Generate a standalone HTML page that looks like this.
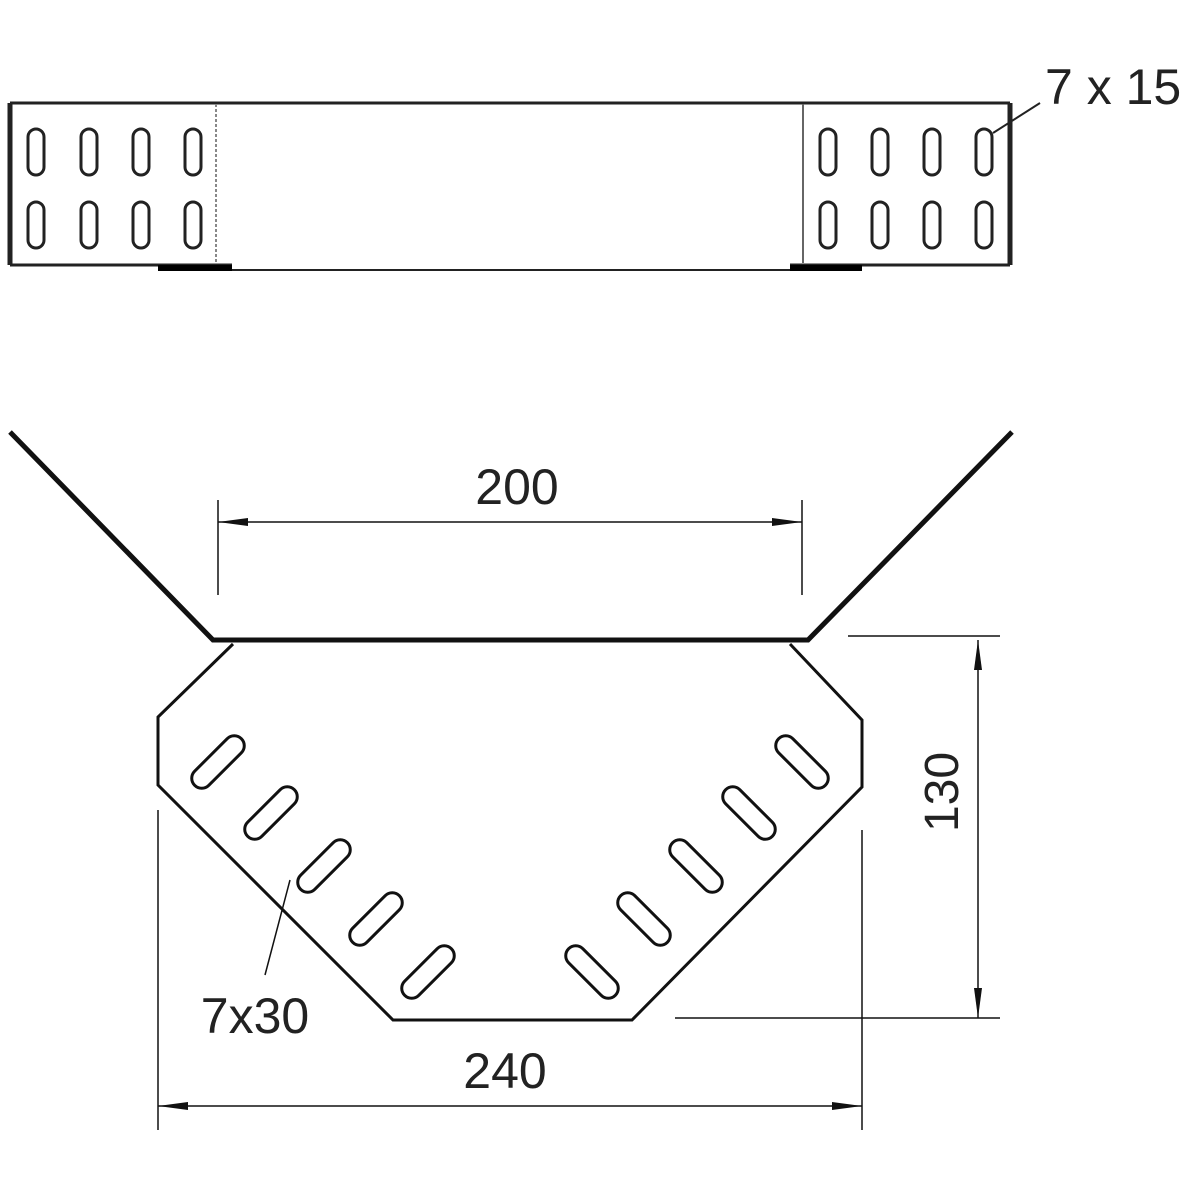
<!DOCTYPE html><html><head><style>body{margin:0;background:#fff}svg{display:block}text{font-family:"Liberation Sans",sans-serif;fill:#222}</style></head><body>
<svg width="1200" height="1200" viewBox="0 0 1200 1200" xmlns="http://www.w3.org/2000/svg">
<defs>
<rect id="vs" x="-8" y="-23" width="16" height="46" rx="8" fill="none" stroke="#222" stroke-width="3"/>
<rect id="ds" x="-33" y="-10" width="66" height="20" rx="10" fill="none" stroke="#111" stroke-width="3"/>
<marker id="ar" markerWidth="30" markerHeight="10" refX="30" refY="5" orient="auto" markerUnits="userSpaceOnUse"><path d="M0,1 L30,5 L0,9 Z" fill="#111"/></marker>
</defs>
<g fill="none" stroke="#222">
<path d="M10,103 H1010" stroke-width="3"/>
<path d="M10,103 V265" stroke-width="5"/>
<path d="M1010,103 V265" stroke-width="5"/>
<path d="M10,265 H232 M790,265 H1010" stroke-width="3"/>
<path d="M232,270 H790" stroke-width="2"/>
<path d="M158,268 H232 M790,268 H862" stroke="#000" stroke-width="6"/>
<path d="M216,104 V263" stroke="#888" stroke-width="2" stroke-dasharray="3,2"/>
<path d="M803,104 V263" stroke="#666" stroke-width="2"/>
<path d="M993,133 L1040,103" stroke-width="2"/>
</g>
<g>
<use href="#vs" x="36" y="152"/><use href="#vs" x="89" y="152"/><use href="#vs" x="141" y="152"/><use href="#vs" x="193" y="152"/>
<use href="#vs" x="36" y="225"/><use href="#vs" x="89" y="225"/><use href="#vs" x="141" y="225"/><use href="#vs" x="193" y="225"/>
<use href="#vs" x="828" y="152"/><use href="#vs" x="880" y="152"/><use href="#vs" x="932" y="152"/><use href="#vs" x="984" y="152"/>
<use href="#vs" x="828" y="225"/><use href="#vs" x="880" y="225"/><use href="#vs" x="932" y="225"/><use href="#vs" x="984" y="225"/>
</g>
<text x="1045" y="104" font-size="50">7 x 15</text>
<g fill="none" stroke="#111">
<path d="M10,432 L213,640 H808 L1012,432" stroke-width="5"/>
<path d="M233,644 L158,717 V785 L393,1020 H632 L862,787 V720 L790,644" stroke-width="3"/>
<path d="M218,500 V595 M802,500 V595" stroke-width="1.5"/>
<path d="M848,636 H1000 M675,1018 H1000" stroke-width="1.5"/>
<path d="M158,810 V1130 M862,830 V1130" stroke-width="1.5"/>
<path d="M510,522 H218" stroke-width="1.5" marker-end="url(#ar)"/>
<path d="M510,522 H802" stroke-width="1.5" marker-end="url(#ar)"/>
<path d="M978,830 V640" stroke-width="1.5" marker-end="url(#ar)"/>
<path d="M978,830 V1018" stroke-width="1.5" marker-end="url(#ar)"/>
<path d="M510,1106 H158" stroke-width="1.5" marker-end="url(#ar)"/>
<path d="M510,1106 H862" stroke-width="1.5" marker-end="url(#ar)"/>
<path d="M265,975 L290,880" stroke-width="1.5"/>
</g>
<g>
<use href="#ds" transform="translate(218,762) rotate(-45)"/>
<use href="#ds" transform="translate(271,813) rotate(-45)"/>
<use href="#ds" transform="translate(324,866) rotate(-45)"/>
<use href="#ds" transform="translate(376,919) rotate(-45)"/>
<use href="#ds" transform="translate(428,972) rotate(-45)"/>
<use href="#ds" transform="translate(802,762) rotate(45)"/>
<use href="#ds" transform="translate(749,813) rotate(45)"/>
<use href="#ds" transform="translate(696,866) rotate(45)"/>
<use href="#ds" transform="translate(644,919) rotate(45)"/>
<use href="#ds" transform="translate(592,972) rotate(45)"/>
</g>
<text x="517" y="504" font-size="50" text-anchor="middle">200</text>
<text x="505" y="1088" font-size="50" text-anchor="middle">240</text>
<text x="255" y="1033" font-size="50" text-anchor="middle">7x30</text>
<text transform="translate(958,792) rotate(-90)" font-size="48" text-anchor="middle">130</text>
</svg>
</body></html>
